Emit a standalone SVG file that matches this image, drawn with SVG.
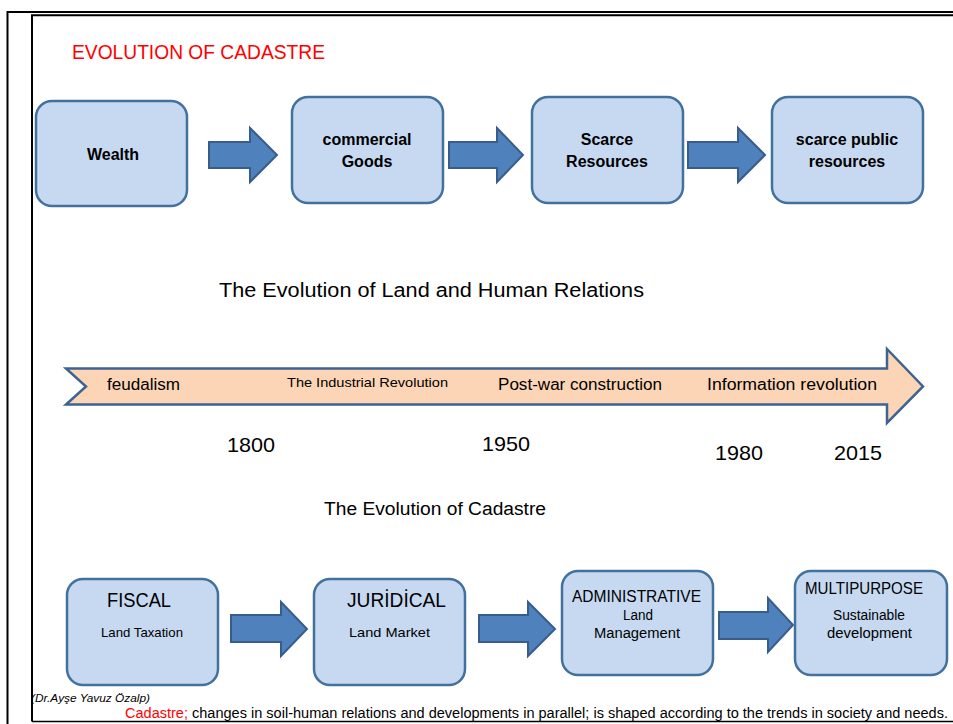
<svg xmlns="http://www.w3.org/2000/svg" width="953" height="724" viewBox="0 0 953 724">
<style>
text{font-family:"Liberation Sans",Arial,sans-serif;fill:#000}
.box{fill:#c6d9f0;stroke:#41719c;stroke-width:2.5}
.arr{fill:#4f81bd;stroke:#385d8a;stroke-width:2}
.b{font-weight:bold;font-size:16px;text-anchor:middle}
.frame{fill:none;stroke:#000;stroke-width:2}
</style>
<rect width="953" height="724" fill="#fff"/>
<g id="frame">
<path class="frame" d="M7.5,730 V12 H960"/>
<path class="frame" d="M32,721.5 V15.3 H960"/>
<path d="M32,721.5 H960" fill="none" stroke="#000" stroke-width="1.5"/>
</g>
<text id="title" x="72" y="59" font-size="19.5" fill="#ff0000" style="fill:#ff0000" textLength="253" lengthAdjust="spacingAndGlyphs">EVOLUTION OF CADASTRE</text>

<g id="connectors">
<path class="arr" d="M209,142 H250 V128 L277,155 L250,182 V168 H209 Z"/>
<path class="arr" d="M449,142 H497 V128 L523,155 L497,182 V168 H449 Z"/>
<path class="arr" d="M688,142 H738 V128 L765,155 L738,182 V168 H688 Z"/>
<path class="arr" d="M231,615 H281 V602 L307,629 L281,656 V642 H231 Z"/>
<path class="arr" d="M479,615 H528 V602 L555,629 L528,656 V642 H479 Z"/>
<path class="arr" d="M719,612 H768 V598 L793,625 L768,652 V639 H719 Z"/>
</g>

<g id="wealth">
<rect class="box" x="36" y="101" width="151" height="105" rx="16"/>
<text class="b" x="113" y="160">Wealth</text>
</g>
<g id="commercial-goods">
<rect class="box" x="292" y="97" width="151" height="106" rx="16"/>
<text class="b" x="367" y="145">commercial</text>
<text class="b" x="367" y="167">Goods</text>
</g>
<g id="scarce-resources">
<rect class="box" x="532" y="97" width="151" height="106" rx="16"/>
<text class="b" x="607" y="145">Scarce</text>
<text class="b" x="607" y="167">Resources</text>
</g>
<g id="scarce-public">
<rect class="box" x="772" y="97" width="151" height="106" rx="16"/>
<text class="b" x="847" y="145">scarce public</text>
<text class="b" x="847" y="167">resources</text>
</g>

<text id="subtitle1" x="219" y="297" font-size="20" textLength="425" lengthAdjust="spacingAndGlyphs">The Evolution of Land and Human Relations</text>

<g id="timeline">
<path d="M66,368.5 H887 V349 L923,386.5 L887,423 V404.5 H66 L86,386.5 Z" fill="#fbd5b5" stroke="#3f6391" stroke-width="2.5"/>
<text x="107" y="390" font-size="16" textLength="73" lengthAdjust="spacingAndGlyphs">feudalism</text>
<text x="287" y="387" font-size="13.5" textLength="161" lengthAdjust="spacingAndGlyphs">The Industrial Revolution</text>
<text x="498" y="390" font-size="16" textLength="164" lengthAdjust="spacingAndGlyphs">Post-war construction</text>
<text x="707" y="390" font-size="16" textLength="170" lengthAdjust="spacingAndGlyphs">Information revolution</text>
</g>
<g id="years" font-size="21">
<text x="227" y="452" textLength="48" lengthAdjust="spacingAndGlyphs">1800</text>
<text x="482" y="451" textLength="48" lengthAdjust="spacingAndGlyphs">1950</text>
<text x="715" y="460" textLength="48" lengthAdjust="spacingAndGlyphs">1980</text>
<text x="834" y="460" textLength="48" lengthAdjust="spacingAndGlyphs">2015</text>
</g>

<text id="subtitle2" x="324" y="515" font-size="18" textLength="222" lengthAdjust="spacingAndGlyphs">The Evolution of Cadastre</text>

<g id="fiscal">
<rect class="box" x="67" y="579" width="151" height="106" rx="16"/>
<text x="107" y="607" font-size="20.5" textLength="64" lengthAdjust="spacingAndGlyphs">FISCAL</text>
<text x="101" y="637" font-size="13.5" textLength="82" lengthAdjust="spacingAndGlyphs">Land Taxation</text>
</g>
<g id="juridical">
<rect class="box" x="314" y="579" width="151" height="106" rx="16"/>
<text x="347" y="607" font-size="20.5" textLength="99" lengthAdjust="spacingAndGlyphs">JURİDİCAL</text>
<text x="349" y="637" font-size="13.5" textLength="81" lengthAdjust="spacingAndGlyphs">Land Market</text>
</g>
<g id="administrative">
<rect class="box" x="562" y="571" width="151" height="104" rx="16"/>
<text x="572" y="602" font-size="16.5" textLength="129" lengthAdjust="spacingAndGlyphs">ADMINISTRATIVE</text>
<text x="623" y="620" font-size="14" textLength="30" lengthAdjust="spacingAndGlyphs">Land</text>
<text x="594" y="638" font-size="14" textLength="86" lengthAdjust="spacingAndGlyphs">Management</text>
</g>
<g id="multipurpose">
<rect class="box" x="795" y="571" width="152" height="104" rx="16"/>
<text x="805" y="594" font-size="16.5" textLength="118" lengthAdjust="spacingAndGlyphs">MULTIPURPOSE</text>
<text x="833" y="620" font-size="14" textLength="72" lengthAdjust="spacingAndGlyphs">Sustainable</text>
<text x="827" y="638" font-size="14" textLength="85" lengthAdjust="spacingAndGlyphs">development</text>
</g>

<text id="author" x="31" y="702" font-size="11" font-style="italic" textLength="119" lengthAdjust="spacingAndGlyphs">(Dr.Ayşe Yavuz Özalp)</text>
<text id="footer" x="125" y="718" font-size="14" textLength="823" lengthAdjust="spacingAndGlyphs"><tspan style="fill:#ff0000">Cadastre;</tspan> changes in soil-human relations and developments in parallel; is shaped according to the trends in society and needs.</text>
</svg>
